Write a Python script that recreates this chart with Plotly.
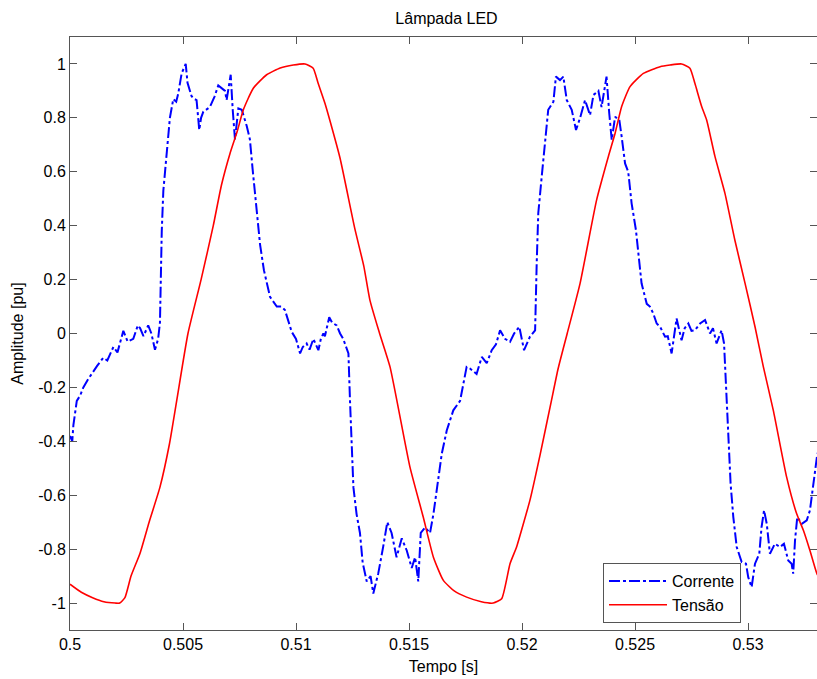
import plotly.graph_objects as go

# ---- Data (time in seconds) ----
tempo_corrente = [
    0.50000, 0.50010, 0.50015, 0.50030, 0.50045, 0.50059, 0.50080, 0.50103, 0.50120, 0.50147,
    0.50165, 0.50192, 0.50210, 0.50236, 0.50255, 0.50280, 0.50300, 0.50310, 0.50325, 0.50346,
    0.50360, 0.50376, 0.50390, 0.50398, 0.50406, 0.50413, 0.50428, 0.50442, 0.50457, 0.50470,
    0.50479, 0.50494, 0.50512, 0.50520, 0.50538, 0.50550, 0.50560, 0.50572, 0.50580, 0.50590,
    0.50619, 0.50640, 0.50656, 0.50670, 0.50686, 0.50693, 0.50711, 0.50720, 0.50730, 0.50745,
    0.50760, 0.50782, 0.50796, 0.50808, 0.50823, 0.50841, 0.50858, 0.50885, 0.50915, 0.50935,
    0.50951, 0.50981, 0.51000, 0.51018, 0.51030, 0.51047, 0.51060, 0.51077, 0.51099, 0.51110,
    0.51121, 0.51128, 0.51147, 0.51160, 0.51180, 0.51195, 0.51209, 0.51232, 0.51239, 0.51246,
    0.51254, 0.51268, 0.51283, 0.51295, 0.51313, 0.51330, 0.51342, 0.51355, 0.51364, 0.51386,
    0.51404, 0.51423, 0.51445, 0.51468, 0.51490, 0.51512, 0.51527, 0.51541, 0.51552, 0.51571,
    0.51593, 0.51608, 0.51630, 0.51645, 0.51667, 0.51696, 0.51726, 0.51755, 0.51770, 0.51799,
    0.51822, 0.51844, 0.51866, 0.51885, 0.51903, 0.51925, 0.51947, 0.51965, 0.51988, 0.52009,
    0.52035, 0.52058, 0.52065, 0.52072, 0.52087, 0.52102, 0.52116, 0.52139, 0.52150, 0.52168,
    0.52183, 0.52198, 0.52220, 0.52239, 0.52257, 0.52279, 0.52301, 0.52316, 0.52338, 0.52352,
    0.52374, 0.52386, 0.52397, 0.52412, 0.52431, 0.52441, 0.52456, 0.52470, 0.52485, 0.52504,
    0.52515, 0.52529, 0.52552, 0.52566, 0.52581, 0.52596, 0.52611, 0.52633, 0.52645, 0.52662,
    0.52684, 0.52706, 0.52720, 0.52736, 0.52750, 0.52765, 0.52788, 0.52810, 0.52832, 0.52845,
    0.52861, 0.52883, 0.52894, 0.52903, 0.52913, 0.52923, 0.52935, 0.52950, 0.52972, 0.52991,
    0.53001, 0.53016, 0.53031, 0.53050, 0.53060, 0.53071, 0.53083, 0.53097, 0.53119, 0.53142,
    0.53159, 0.53178, 0.53193, 0.53200, 0.53208, 0.53218, 0.53238, 0.53260, 0.53274, 0.53286,
    0.53296, 0.53305, 0.53320,
]
corrente = [
    -0.38, -0.40, -0.34, -0.25, -0.23, -0.20, -0.17, -0.14, -0.12, -0.09,
    -0.10, -0.05, -0.07, 0.01, -0.03, -0.02, 0.03, 0.02, -0.01, 0.03,
    0.00, -0.06, -0.02, 0.04, 0.38, 0.53, 0.66, 0.80, 0.87, 0.86,
    0.89, 0.965, 1.00, 0.93, 0.88, 0.87, 0.866, 0.755, 0.80, 0.823,
    0.84, 0.88, 0.92, 0.91, 0.90, 0.866, 0.96, 0.83, 0.72, 0.835,
    0.83, 0.77, 0.72, 0.61, 0.47, 0.33, 0.235, 0.136, 0.10, 0.10,
    0.087, 0.006, -0.02, -0.074, -0.05, -0.037, -0.06, -0.02, -0.062, -0.02,
    0.00, -0.01, 0.06, 0.04, 0.03, 0.00, -0.02, -0.074, -0.25, -0.43,
    -0.57, -0.67, -0.74, -0.85, -0.92, -0.90, -0.965, -0.92, -0.89, -0.79,
    -0.70, -0.74, -0.83, -0.76, -0.805, -0.87, -0.83, -0.92, -0.74, -0.72,
    -0.74, -0.67, -0.545, -0.446, -0.36, -0.285, -0.25, -0.124, -0.13, -0.15,
    -0.087, -0.11, -0.062, -0.04, 0.012, -0.02, -0.031, 0.00, 0.025, -0.062,
    -0.012, 0.012, 0.26, 0.446, 0.58, 0.71, 0.83, 0.86, 0.953, 0.94,
    0.953, 0.866, 0.83, 0.755, 0.80, 0.866, 0.81, 0.885, 0.90, 0.84,
    0.953, 0.817, 0.718, 0.804, 0.79, 0.73, 0.631, 0.60, 0.483, 0.384,
    0.285, 0.186, 0.11, 0.10, 0.074, 0.037, 0.025, -0.012, -0.01, -0.074,
    0.056, -0.025, 0.02, 0.037, 0.01, 0.012, 0.037, 0.05, 0.00, 0.02,
    -0.037, 0.012, -0.037, -0.186, -0.371, -0.557, -0.681, -0.792, -0.848, -0.854,
    -0.904, -0.941, -0.854, -0.817, -0.718, -0.656, -0.706, -0.817, -0.78, -0.792,
    -0.78, -0.842, -0.854, -0.891, -0.768, -0.681, -0.706, -0.693, -0.656, -0.582,
    -0.508, -0.458, -0.40,
]

tempo_tensao = [
    0.50000, 0.50050, 0.50100, 0.50150, 0.50200, 0.50220, 0.50243, 0.50270, 0.50310, 0.50350,
    0.50398, 0.50440, 0.50472, 0.50522, 0.50580, 0.50634, 0.50670, 0.50708, 0.50740, 0.50767,
    0.50811, 0.50870, 0.50930, 0.50988, 0.51040, 0.51076, 0.51098, 0.51128, 0.51150, 0.51195,
    0.51260, 0.51300, 0.51327, 0.51370, 0.51416, 0.51504, 0.51563, 0.51608, 0.51652, 0.51700,
    0.51755, 0.51820, 0.51873, 0.51910, 0.51947, 0.51976, 0.52006, 0.52035, 0.52080, 0.52130,
    0.52160, 0.52200, 0.52257, 0.52330, 0.52382, 0.52412, 0.52441, 0.52478, 0.52537, 0.52611,
    0.52655, 0.52706, 0.52743, 0.52765, 0.52795, 0.52817, 0.52854, 0.52898, 0.52942, 0.52987,
    0.53031, 0.53068, 0.53112, 0.53171, 0.53215, 0.53245, 0.53274, 0.53305, 0.53325,
]
tensao = [
    -0.93, -0.96, -0.98, -0.995, -1.00, -1.00, -0.98, -0.90, -0.815, -0.70,
    -0.57, -0.41, -0.25, 0.00, 0.20, 0.40, 0.55, 0.668, 0.75, 0.83,
    0.91, 0.96, 0.985, 0.996, 1.00, 0.984, 0.928, 0.854, 0.79, 0.65,
    0.39, 0.25, 0.124, 0.00, -0.124, -0.495, -0.681, -0.83, -0.916, -0.955,
    -0.978, -0.995, -1.00, -0.984, -0.854, -0.792, -0.706, -0.619, -0.45, -0.25,
    -0.13, 0.00, 0.186, 0.495, 0.656, 0.743, 0.842, 0.916, 0.965, 0.99,
    0.996, 1.00, 0.984, 0.928, 0.842, 0.792, 0.656, 0.52, 0.346, 0.186,
    0.025, -0.124, -0.285, -0.533, -0.668, -0.73, -0.805, -0.891, -0.92,
]

x_ticks = [0.5, 0.505, 0.51, 0.515, 0.52, 0.525, 0.53]
x_tick_labels = ["0.5", "0.505", "0.51", "0.515", "0.52", "0.525", "0.53"]
y_ticks = [-1, -0.8, -0.6, -0.4, -0.2, 0, 0.2, 0.4, 0.6, 0.8, 1]
y_tick_labels = ["-1", "-0.8", "-0.6", "-0.4", "-0.2", "0", "0.2", "0.4", "0.6", "0.8", "1"]

FONT = "Liberation Sans, Arial, Helvetica, sans-serif"

fig = go.Figure()
fig.add_trace(go.Scatter(
    x=tempo_corrente, y=corrente, mode="lines", name="Corrente",
    line=dict(color="#0000ff", width=2, dash="11px,3px,3px,3px"), legendgroup="a",
))
fig.add_trace(go.Scatter(
    x=tempo_tensao, y=tensao, mode="lines", name="Tensão",
    line=dict(color="#ff0000", width=1.6, shape="spline", smoothing=0.5), legendgroup="b",
))

axis_common = dict(
    showgrid=False, zeroline=False, showline=True, linecolor="#555555", linewidth=1,
    ticks="inside", ticklen=7, tickcolor="#555555", mirror="ticks",
    tickfont=dict(family=FONT, size=16, color="#000000"),
)

fig.update_layout(
    width=817, height=679,
    margin=dict(l=70, r=0, t=37, b=49),
    paper_bgcolor="white", plot_bgcolor="white",
    font=dict(family=FONT, size=16, color="#000000"),
    title=dict(text="Lâmpada LED", x=(70 + 823) / 2 / 817, xanchor="center",
               y=1 - 18 / 679, yanchor="middle", font=dict(size=16)),
    xaxis=dict(range=[0.5, 0.533053], tickvals=x_ticks, ticktext=x_tick_labels,
               title=dict(text="Tempo [s]", font=dict(size=16), standoff=8), **axis_common),
    yaxis=dict(range=[-1.1, 1.1], tickvals=y_ticks, ticktext=y_tick_labels,
               title=dict(text="Amplitude [pu]", font=dict(size=16), standoff=10), **axis_common),
    legend=dict(x=(603 - 70) / 747, y=(630 - 563) / 593, xanchor="left", yanchor="top",
                bordercolor="#555555", borderwidth=1, bgcolor="white",
                font=dict(family=FONT, size=16), traceorder="grouped", tracegroupgap=0,
                itemwidth=58),
    showlegend=True,
)

fig.write_html("out.html")
